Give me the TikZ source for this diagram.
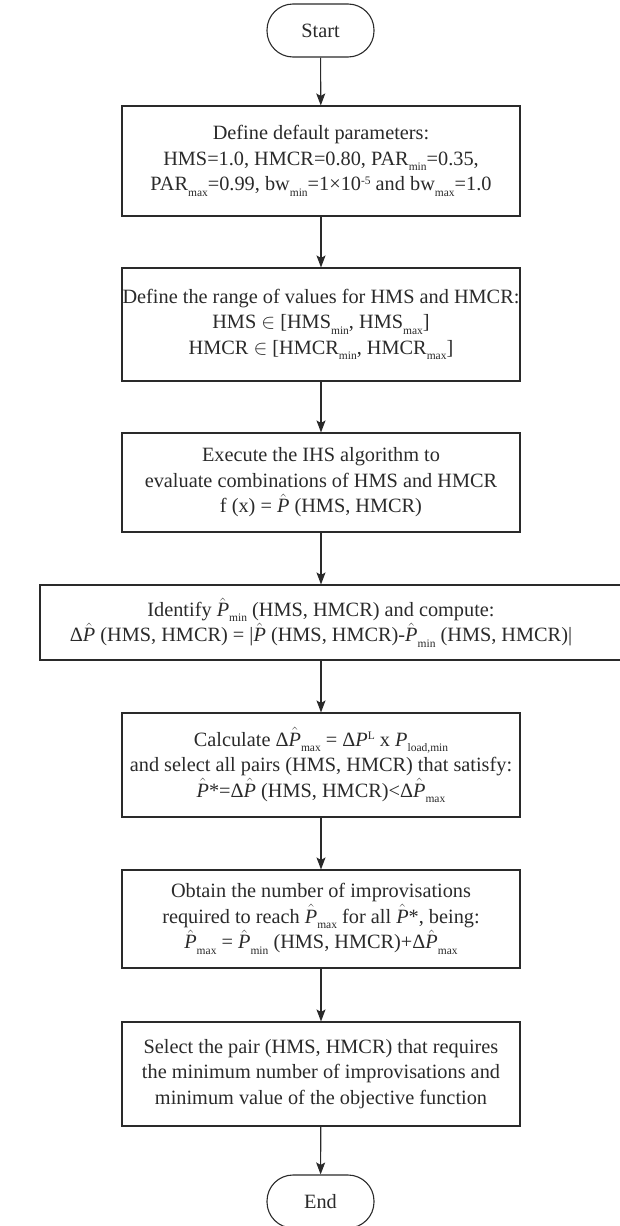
\documentclass[tikz,border=0pt]{standalone}
\usepackage{fontspec}
\setmainfont{Liberation Serif}
\usetikzlibrary{arrows.meta}
\definecolor{ink}{HTML}{2A2A2A}
\newcommand{\Ph}{\ensuremath{\hat{\mbox{\itshape P}}}}
\newcommand{\sbs}[1]{\raisebox{-5.5pt}{\fontsize{11.5}{11.5}\selectfont #1}}
\newcommand{\sps}[1]{\raisebox{6.5pt}{\fontsize{11.5}{11.5}\selectfont #1}}
\begin{document}
\begin{tikzpicture}[x=1pt,y=-1pt,
  font=\fontsize{20.3}{25.5}\selectfont,
  proc/.style={draw=ink, line width=1.1pt, align=center, text=ink, minimum width=398pt, inner sep=0pt},
  term/.style={draw=ink, line width=1.1pt, rounded corners=26pt, minimum width=107pt, minimum height=53pt, text=ink, inner sep=0pt},
  arr/.style={draw=ink, line width=1.1pt, -{Stealth[length=12pt,width=9pt,inset=2.5pt]}}]
\useasboundingbox (0,0) rectangle (619,1226);
\node[term] (start) at (320.5,30.5) {Start};
\node[proc, minimum height=110pt] (b1) at (321,161) {Define default parameters:\\
HMS=1.0, HMCR=0.80, PAR\sbs{min}=0.35,\\
PAR\sbs{max}=0.99, bw\sbs{min}=1×10\sps{-5} and bw\sbs{max}=1.0};
\node[proc, minimum height=113pt] (b2) at (321,324.5) {Define the range of values for HMS and HMCR:\\
HMS $\in$ [HMS\sbs{min}, HMS\sbs{max}]\\
HMCR $\in$ [HMCR\sbs{min}, HMCR\sbs{max}]};
\node[proc, minimum height=99pt] (b3) at (321,482.5) {Execute the IHS algorithm to\\
evaluate combinations of HMS and HMCR\\
f (x) = \Ph{} (HMS, HMCR)};
\node[proc, minimum width=582pt, minimum height=75pt] (b4) at (331,622.5) {};
\node[align=center, text=ink, inner sep=0pt] (b4t) at (321,622.5) {Identify \Ph\sbs{min} (HMS, HMCR) and compute:\\
Δ\Ph{} (HMS, HMCR) = |\Ph{} (HMS, HMCR)-\Ph\sbs{min} (HMS, HMCR)|};
\node[proc, minimum height=104pt] (b5) at (321,765) {Calculate Δ\Ph\sbs{max} = Δ\textit{P}\sps{L} x \textit{P}\sbs{load,min}\\
and select all pairs (HMS, HMCR) that satisfy:\\
\Ph*=Δ\Ph{} (HMS, HMCR)<Δ\Ph\sbs{max}};
\node[proc, minimum height=98pt] (b6) at (321,919) {Obtain the number of improvisations\\
required to reach \Ph\sbs{max} for all \Ph*, being:\\
\Ph\sbs{max} = \Ph\sbs{min} (HMS, HMCR)+Δ\Ph\sbs{max}};
\node[proc, minimum height=104pt] (b7) at (321,1074) {Select the pair (HMS, HMCR) that requires\\
the minimum number of improvisations and\\
minimum value of the objective function};
\node[term] (end) at (320.5,1201.5) {End};
\draw[arr] (start) -- (b1);
\draw[arr] (b1) -- (b2);
\draw[arr] (b2) -- (b3);
\draw[arr] (b3.south) -- (b3.south |- b4.north);
\draw[arr] (b3.south |- b4.south) -- (b5.north);
\draw[arr] (b5) -- (b6);
\draw[arr] (b6) -- (b7);
\draw[arr] (b7) -- (end);
\end{tikzpicture}
\end{document}
